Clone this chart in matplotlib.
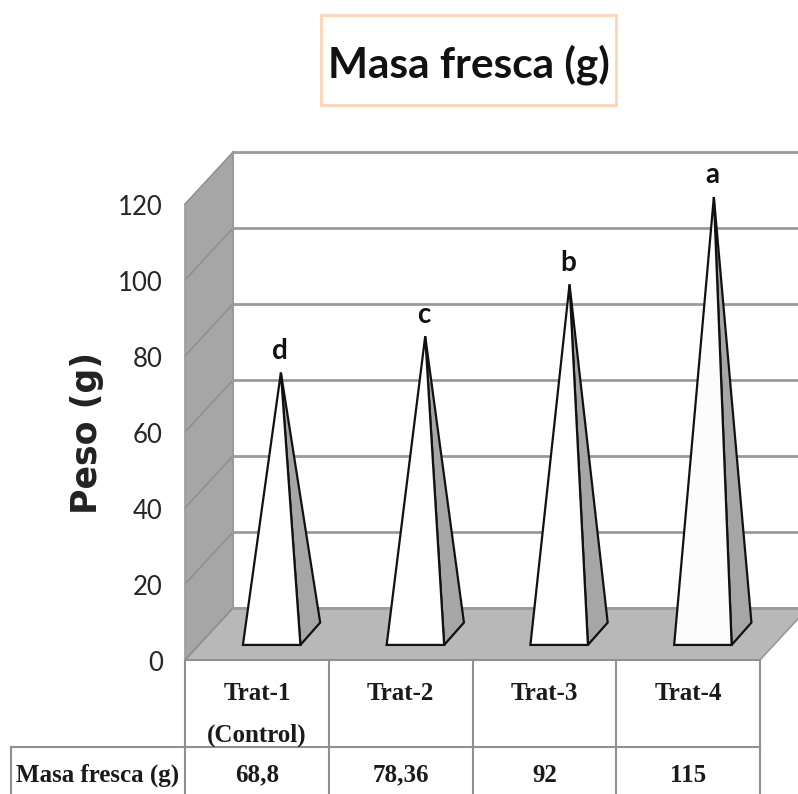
import matplotlib
matplotlib.use("Agg")
import matplotlib.pyplot as plt
from matplotlib.patches import Polygon, Rectangle

categories = ["Trat-1\n(Control)", "Trat-2", "Trat-3", "Trat-4"]
values = [68.8, 78.36, 92, 115]
value_labels = ["68,8", "78,36", "92", "115"]
letters = ["d", "c", "b", "a"]
y_ticks = [0, 20, 40, 60, 80, 100, 120]
series_name = "Masa fresca (g)"
title = "Masa fresca (g)"
y_label = "Peso (g)"

W, H = 798, 794
X0, X1, Y0, Y120 = 185, 760, 660, 204   # front plane in pixels
DX, DY = 48, 52                          # depth offset in pixels
PX_CAT = (X1 - X0) / len(categories)
PX_VAL = (Y0 - Y120) / 120

fig = plt.figure(figsize=(W / 100, H / 100), dpi=100)
ax = fig.add_axes([0, 0, 1, 1])
ax.set_xlim(-X0 / PX_CAT, (W - X0) / PX_CAT)
ax.set_ylim((Y0 - H) / PX_VAL, Y0 / PX_VAL)
ax.axis("off")

ddx, ddy = DX / PX_CAT, DY / PX_VAL
n = len(categories)
top = max(y_ticks)
SANS = "Lato"
SERIF = "Liberation Serif"
GRID = "#9a9a9a"
WALL = "#a6a6a6"
FLOOR = "#b8b8b8"

# side wall and floor
ax.add_patch(Polygon([(0, 0), (ddx, ddy), (ddx, top + ddy), (0, top)], fc=WALL, ec="none", zorder=1))
ax.add_patch(Polygon([(0, 0), (ddx, ddy), (n + ddx, ddy), (n, 0)], fc=FLOOR, ec=GRID, lw=1.2, zorder=1))

# gridlines on back wall and side wall
for t in y_ticks:
    ax.plot([ddx, n + ddx], [t + ddy, t + ddy], color=GRID, lw=2, zorder=2, solid_capstyle="butt")
    ax.plot([0, ddx], [t, t + ddy], color="#8c8c8c", lw=1, zorder=2)
    ax.annotate(str(t), (0, t), xytext=(-16, -2.2), textcoords="offset points", ha="right", va="center",
                family=SANS, fontsize=18.5, color="#262626")
ax.plot([ddx, ddx], [0 + ddy, top + ddy], color=GRID, lw=1.5, zorder=2)
ax.plot([0, 0], [0, top], color=GRID, lw=1.2, zorder=2)

# pyramids
half = 0.2
d_front, d_back = 0.29, 0.72
for i, v in enumerate(values):
    cx = i + 0.5
    apex = (cx + 0.5 * ddx + 0.004 * i, v + 0.5 * ddy)
    fl = (cx - half + d_front * ddx + 0.006, d_front * ddy)
    fr = (cx + half + d_front * ddx + 0.006, d_front * ddy)
    br = (cx + half + d_back * ddx, d_back * ddy)
    ax.add_patch(Polygon([fr, br, apex], fc="#a6a6a6", ec="#111111", lw=1.6, joinstyle="miter", zorder=4))
    ax.add_patch(Polygon([fl, fr, apex], fc="white" if i < 3 else "#fcfcfc", ec="#111111", lw=1.6, joinstyle="miter", zorder=5))
    ax.annotate(letters[i], apex, xytext=(-1, 15.5), textcoords="offset points", ha="center", va="center",
                family=SANS, weight="bold", fontsize=20, color="#111111", zorder=6)

# data table
T_ROW1 = -87 / PX_VAL
T_END = (Y0 - H) / PX_VAL
LINE = "#8f8f8f"
for i in range(n + 1):
    ax.plot([i, i], [0, T_END], color=LINE, lw=1.5, zorder=3)
ax.plot([0, n], [0, 0], color=LINE, lw=1.5, zorder=3)
x_left = -174 / PX_CAT
ax.plot([x_left, n], [T_ROW1, T_ROW1], color=LINE, lw=1.5, zorder=3)
ax.plot([x_left, x_left], [T_ROW1, T_END], color=LINE, lw=1.5, zorder=3)
for i, (c, lab) in enumerate(zip(categories, value_labels)):
    ax.text(i + 0.5, -22 / PX_VAL, c, ha="center", va="top", family=SERIF, weight="bold",
            fontsize=18, color="#1a1a1a", linespacing=2.05)
    ax.text(i + 0.5, -115 / PX_VAL, lab, ha="center", va="center", family=SERIF, weight="bold",
            fontsize=18, color="#1a1a1a")
ax.text(x_left / 2, -115 / PX_VAL, series_name, ha="center", va="center", family=SERIF, weight="bold",
        fontsize=18, color="#1a1a1a")

# axis label
fig.text(87 / W, 1 - 433 / H, y_label, rotation=90, ha="center", va="center",
         family="DejaVu Sans", weight="bold", fontsize=25, color="#222222")

# title box
fig.patches.append(Rectangle((321 / W, 1 - 105 / H), 295 / W, 90 / H, transform=fig.transFigure,
                             fc="white", ec="#fcd5b5", lw=2))
fig.text(468.5 / W, 1 - 65 / H, title, ha="center", va="center", family="Lato", weight="bold",
         fontsize=30.5, color="#111111")

fig.savefig("out.png", dpi=100)
